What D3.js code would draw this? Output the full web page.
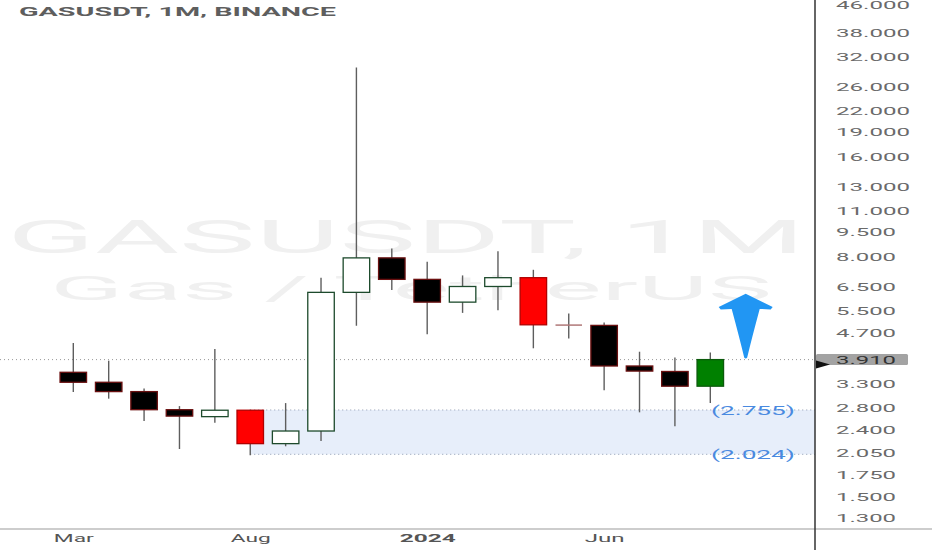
<!DOCTYPE html>
<html>
<head>
<meta charset="utf-8">
<script src="https://cdn.jsdelivr.net/npm/d3@7"></script>
<style>
  html, body { margin: 0; padding: 0; background: #fff; }
  svg { display: block; font-family: Roboto, "Liberation Sans", sans-serif; }
</style>
</head>
<body>
<svg id="chart" width="932" height="550"></svg>
<script>
// monthly candles, GAS/USDT on Binance
var months = ["2023-03","2023-04","2023-05","2023-06","2023-07","2023-08","2023-09","2023-10","2023-11","2023-12",
              "2024-01","2024-02","2024-03","2024-04","2024-05","2024-06","2024-07","2024-08","2024-09"];
var opens  = [3.58, 3.34, 3.13, 2.76, 2.63, 2.75, 2.18, 2.38, 6.24, 7.93, 6.83, 5.83, 6.50, 6.91, 4.99, 4.96, 3.74, 3.60, 3.25];
var highs  = [4.39, 3.88, 3.20, 2.83, 4.21, 2.76, 2.89, 6.91, 29.8, 8.47, 7.72, 7.02, 8.31, 7.30, 5.39, 5.06, 4.13, 3.97, 4.11];
var lows   = [3.12, 2.98, 2.55, 2.10, 2.52, 2.01, 2.14, 2.22, 4.95, 6.34, 4.66, 5.41, 5.51, 4.23, 4.53, 3.16, 2.71, 2.46, 2.89];
var closes = [3.34, 3.13, 2.76, 2.64, 2.75, 2.18, 2.38, 6.24, 7.93, 6.83, 5.83, 6.50, 6.91, 4.98, 4.97, 3.74, 3.61, 3.25, 3.91];
var highlighted = ["2023-08", "2024-04", "2024-09"];

var priceTicks = [46, 38, 32, 26, 22, 19, 16, 13, 11, 9.5, 8, 6.5, 5.5, 4.7, 3.3, 2.8, 2.4, 2.05, 1.75, 1.5, 1.3];
var timeTicks = ["2023-03", "2023-08", "2024-01", "2024-06"];
var timeLabels = ["Mar", "Aug", "2024", "Jun"];

var lastPrice = 3.91;
var zoneTop = 2.755, zoneBottom = 2.024, zoneStart = "2023-08";
var arrowMonth = 19;            // slot after the last candle
var arrowTip = 3.94, arrowWing = 5.62, arrowTop = 6.18;

var svg = d3.select("#chart");
var plotRight = 815, plotBottom = 529;

var x = d3.scaleLinear().domain([0, 18]).range([73.3, 710.3]);
var y = d3.scaleLog().domain([46, 1.3]).range([5, 518]);

var candles = months.map(function(m, i) {
    return {month: m, i: i, o: opens[i], h: highs[i], l: lows[i], c: closes[i]};
});

// watermark
var wm = svg.append("g").attr("fill", "#f0f0f0");
wm.append("text").attr("x", 7).attr("y", 253)
    .attr("font-size", 46).attr("textLength", 798).attr("lengthAdjust", "spacingAndGlyphs")
    .text("GASUSDT, 1M");
wm.append("text").attr("x", 50).attr("y", 300)
    .attr("font-size", 33).attr("textLength", 722).attr("lengthAdjust", "spacingAndGlyphs")
    .text("Gas / TetherUS");

// title
svg.append("text").attr("x", 19).attr("y", 16)
    .attr("font-size", 12).attr("font-weight", "bold").attr("fill", "#5e5e5e")
    .attr("textLength", 317).attr("lengthAdjust", "spacingAndGlyphs")
    .text("GASUSDT, 1M, BINANCE");

// support zone
var zs = months.indexOf(zoneStart);
svg.append("rect")
    .attr("x", x(zs)).attr("y", y(zoneTop))
    .attr("width", plotRight - x(zs)).attr("height", y(zoneBottom) - y(zoneTop))
    .attr("fill", "#e7eefa");
[zoneTop, zoneBottom].forEach(function(p) {
    svg.append("line")
        .attr("x1", x(zs)).attr("x2", plotRight)
        .attr("y1", y(p)).attr("y2", y(p))
        .attr("stroke", "#8e9bb0").attr("stroke-width", 1).attr("stroke-dasharray", "1,3");
    svg.append("text")
        .attr("x", 795).attr("y", y(p)).attr("dy", "0.35em")
        .attr("text-anchor", "end").attr("font-size", 13).attr("fill", "#4a8ae0")
        .attr("textLength", 84).attr("lengthAdjust", "spacingAndGlyphs")
        .text("(" + d3.format(".3f")(p) + ")");
});

// last price line
svg.append("line")
    .attr("x1", 0).attr("x2", plotRight)
    .attr("y1", y(lastPrice)).attr("y2", y(lastPrice))
    .attr("stroke", "#999").attr("stroke-width", 1).attr("stroke-dasharray", "1,3");

// candles
var bodyW = 26.5;
var g = svg.append("g");

g.selectAll(".wick").data(candles).enter().append("line")
    .attr("class", "wick")
    .attr("x1", function(d) { return x(d.i); })
    .attr("x2", function(d) { return x(d.i); })
    .attr("y1", function(d) { return y(d.h); })
    .attr("y2", function(d) { return y(d.l); })
    .attr("stroke", "#5e5e5e").attr("stroke-width", 1.4);

function bodyFill(d) {
    var up = d.c >= d.o;
    if (highlighted.indexOf(d.month) >= 0) return up ? "#008000" : "#ff0000";
    return up ? "#ffffff" : "#000000";
}
function bodyStroke(d) {
    var up = d.c >= d.o;
    if (highlighted.indexOf(d.month) >= 0) return up ? "#0b5a0b" : "#b00000";
    return up ? "#1d4a2c" : "#6a1010";
}

var solid = candles.filter(function(d) { return Math.abs(y(d.o) - y(d.c)) >= 2; });
var doji = candles.filter(function(d) { return Math.abs(y(d.o) - y(d.c)) < 2; });

g.selectAll(".body").data(solid).enter().append("rect")
    .attr("class", "body")
    .attr("x", function(d) { return x(d.i) - bodyW / 2; })
    .attr("width", bodyW)
    .attr("y", function(d) { return y(Math.max(d.o, d.c)); })
    .attr("height", function(d) { return Math.abs(y(d.o) - y(d.c)); })
    .attr("fill", bodyFill)
    .attr("stroke", bodyStroke).attr("stroke-width", 1.3);

g.selectAll(".doji").data(doji).enter().append("line")
    .attr("class", "doji")
    .attr("x1", function(d) { return x(d.i) - bodyW / 2; })
    .attr("x2", function(d) { return x(d.i) + bodyW / 2; })
    .attr("y1", function(d) { return y(d.c); })
    .attr("y2", function(d) { return y(d.c); })
    .attr("stroke", "#b07878").attr("stroke-width", 1.5);

// up arrow
var ax = x(arrowMonth);
var arrowPath = d3.path();
arrowPath.moveTo(ax, y(arrowTop));
arrowPath.lineTo(ax + 27, y(arrowWing) - 0.5);
arrowPath.lineTo(ax + 25, y(arrowWing) + 2);
arrowPath.lineTo(ax + 14, y(arrowWing) + 1.5);
arrowPath.quadraticCurveTo(ax + 6, y(arrowTip) - 20, ax + 1.5, y(arrowTip) - 1);
arrowPath.quadraticCurveTo(ax, y(arrowTip) + 1, ax - 1.5, y(arrowTip) - 1);
arrowPath.quadraticCurveTo(ax - 6, y(arrowTip) - 20, ax - 14, y(arrowWing) + 1.5);
arrowPath.lineTo(ax - 25, y(arrowWing) + 2);
arrowPath.lineTo(ax - 27, y(arrowWing) - 0.5);
arrowPath.closePath();
svg.append("path").attr("d", arrowPath.toString()).attr("fill", "#2196f3");

// axes frame
svg.append("line").attr("x1", 0).attr("x2", 932).attr("y1", plotBottom).attr("y2", plotBottom)
    .attr("stroke", "#bdbdbd").attr("stroke-width", 1.5);
svg.append("line").attr("x1", plotRight).attr("x2", plotRight).attr("y1", 0).attr("y2", 550)
    .attr("stroke", "#333").attr("stroke-width", 1.5);

// price axis
var yAxis = d3.axisRight(y).tickValues(priceTicks).tickSize(0).tickPadding(21)
    .tickFormat(d3.format(".3f"));
var ya = svg.append("g").attr("transform", "translate(" + plotRight + ",0)").call(yAxis);
ya.select(".domain").remove();
ya.selectAll("text")
    .attr("font-family", "Roboto, sans-serif").attr("font-size", 11).attr("fill", "#6a6a6a")
    .attr("textLength", function(d) { return d >= 10 ? 74 : 60; })
    .attr("lengthAdjust", "spacingAndGlyphs");

// last price tag
var ly = y(lastPrice);
svg.append("rect").attr("x", plotRight + 1).attr("y", ly - 5.5).attr("width", 92).attr("height", 11)
    .attr("rx", 1.5).attr("fill", "#a3a3a3");
svg.append("path")
    .attr("d", "M" + (plotRight + 1) + "," + (ly + 1) + "L" + (plotRight + 15) + "," + (ly + 5) + "L" + (plotRight + 1) + "," + (ly + 9) + "Z")
    .attr("fill", "#111");
svg.append("text").attr("x", 836).attr("y", ly).attr("dy", "0.36em")
    .attr("font-size", 11).attr("fill", "#333")
    .attr("textLength", 60).attr("lengthAdjust", "spacingAndGlyphs")
    .text(d3.format(".3f")(lastPrice));

// time axis
var xAxis = d3.axisBottom(x)
    .tickValues(timeTicks.map(function(m) { return months.indexOf(m); }))
    .tickSize(0).tickPadding(5)
    .tickFormat(function(d, i) { return timeLabels[i]; });
var xa = svg.append("g").attr("transform", "translate(0," + plotBottom + ")").call(xAxis);
xa.select(".domain").remove();
xa.selectAll("text")
    .attr("font-family", "Roboto, sans-serif").attr("font-size", 11).attr("fill", "#555")
    .attr("font-weight", function(d, i) { return timeLabels[i] === "2024" ? "bold" : "normal"; })
    .attr("textLength", function(d, i) { return timeLabels[i] === "2024" ? 56 : 40; })
    .attr("lengthAdjust", "spacingAndGlyphs");
</script>
</body>
</html>
